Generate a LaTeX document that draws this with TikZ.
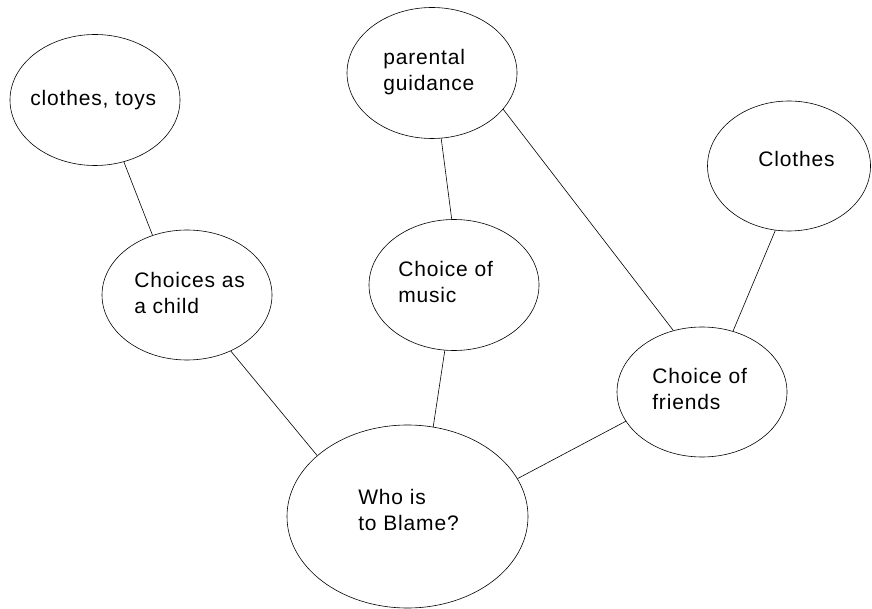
\documentclass[tikz,border=0pt]{standalone}
\usepackage{fontspec}
\newfontfamily\lblfont[LetterSpace=4]{Liberation Sans}
\usetikzlibrary{shapes}

\begin{document}
\begin{tikzpicture}[x=1pt,y=-1pt,line width=0.6pt,
    bubble/.style={draw,ellipse,minimum width=170,minimum height=131,inner sep=0},
    lbl/.style={anchor=west,align=left,inner sep=0,font=\lblfont\fontsize{21}{26}\selectfont}]
  \useasboundingbox (0,0) rectangle (872,609);
  \node [bubble] (toys) at (95,100) {};
  \node [lbl] (toystext) at (30,100.5) {clothes, toys};
  \node [bubble] (parental) at (432,73) {};
  \node [lbl] (parentaltext) at (383,72) {parental\\guidance};
  \node [bubble,minimum width=163,minimum height=130] (clothes) at (789,166) {};
  \node [lbl] (clothestext) at (758,159) {Clothes};
  \node [bubble,minimum height=130] (child) at (187,295) {};
  \node [lbl] (childtext) at (134,293) {Choices as\\a child};
  \node [bubble] (music) at (454,285) {};
  \node [lbl] (musictext) at (398,282) {Choice of\\music};
  \node [bubble,minimum height=130] (friends) at (702,392) {};
  \node [lbl] (friendstext) at (652,389) {Choice of\\friends};
  \node [bubble,minimum width=241,minimum height=183] (blame) at (407.5,516.5) {};
  \node [lbl] (blametext) at (358,510) {Who is\\to Blame?};
  \draw (toys.295) -- (child.120);
  \draw (parental.278) -- (music.92);
  \draw (parental.333) -- (friends.115);
  \draw (clothes.258) -- (friends.63);
  \draw (child.308) -- (blame.146);
  \draw (music.262) -- (blame.74);
  \draw (friends.201) -- (blame.19.4);
\end{tikzpicture}
\end{document}
